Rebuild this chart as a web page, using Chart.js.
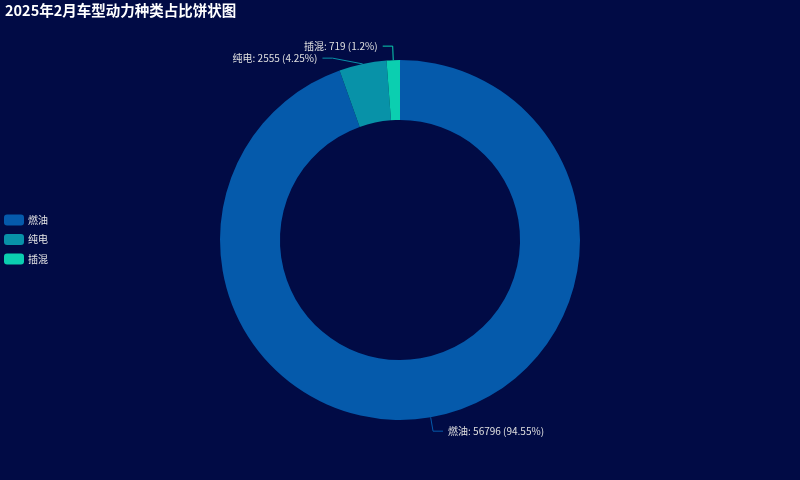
<!DOCTYPE html>
<html>
<head>
<meta charset="utf-8">
<script src="https://cdn.jsdelivr.net/npm/chart.js@4/dist/chart.umd.min.js"></script>
<style>
  html, body { margin: 0; padding: 0; background: #010b45; }
  #wrap { width: 800px; height: 480px; }
</style>
</head>
<body>
<div id="wrap"><canvas id="myChart"></canvas></div>
<script>
// 动力种类 and vehicle counts, Feb 2025
const categories = ['燃油', '纯电', '插混'];
const counts = [56796, 2555, 719];
const colors = ['#055aab', '#0892a8', '#0bcfb0'];

const FONT = '"Noto Sans CJK SC", "Noto Sans", sans-serif';
const total = counts.reduce((a, b) => a + b, 0);

// leader lines + labels, ECharts style
const pieLabels = {
  id: 'pieLabels',
  afterDatasetsDraw(chart) {
    const ctx = chart.ctx;
    const arcs = chart.getDatasetMeta(0).data;
    const len1 = 14, len2 = 10, gap = 12;
    const items = arcs.map((arc, i) => {
      const p = arc.getProps(['x', 'y', 'startAngle', 'endAngle', 'outerRadius'], true);
      const a = (p.startAngle + p.endAngle) / 2;
      const sx = p.x + Math.cos(a) * p.outerRadius;
      const sy = p.y + Math.sin(a) * p.outerRadius;
      return {
        i, cx: p.x, cy: p.y, R: p.outerRadius + len1,
        sx, sy,
        ex: sx + Math.cos(a) * len1,
        ey: sy + Math.sin(a) * len1,
        right: Math.cos(a) >= 0
      };
    });
    // push overlapping labels apart on each side
    [true, false].forEach(side => {
      const list = items.filter(it => it.right === side).sort((a, b) => a.ey - b.ey);
      for (let k = 1; k < list.length; k++) {
        if (list[k].ey - list[k - 1].ey < gap) {
          const it = list[k];
          it.ey = list[k - 1].ey + gap;
          const dy = it.ey - it.cy;
          if (it.R * it.R > dy * dy) {
            const dx = Math.sqrt(it.R * it.R - dy * dy);
            it.ex = it.cx + (side ? dx : -dx);
          }
        }
      }
    });
    ctx.save();
    ctx.font = '10px ' + FONT;
    ctx.textBaseline = 'middle';
    items.forEach(it => {
      const dir = it.right ? 1 : -1;
      const tx = it.ex + dir * len2;
      ctx.strokeStyle = colors[it.i];
      ctx.lineWidth = 1;
      ctx.beginPath();
      ctx.moveTo(it.sx, it.sy);
      ctx.lineTo(it.ex, it.ey);
      ctx.lineTo(tx, it.ey);
      ctx.stroke();
      const pct = parseFloat((counts[it.i] / total * 100).toFixed(2));
      ctx.fillStyle = '#e0e0e0';
      ctx.textAlign = it.right ? 'left' : 'right';
      ctx.fillText(categories[it.i] + ': ' + counts[it.i] + ' (' + pct + '%)', tx + dir * 5, it.ey);
    });
    ctx.restore();
  }
};

// legend on the left, vertically centred on the donut (built-in one eats chart width)
const sideLegend = {
  id: 'sideLegend',
  afterDraw(chart) {
    const ctx = chart.ctx;
    const cy = (chart.chartArea.top + chart.chartArea.bottom) / 2;
    const step = 19.5, bw = 20, bh = 11;
    ctx.save();
    ctx.font = '10px ' + FONT;
    ctx.textBaseline = 'middle';
    ctx.textAlign = 'left';
    chart.data.labels.forEach((lab, i) => {
      const y = cy - 20 + i * step;
      ctx.fillStyle = colors[i];
      ctx.beginPath();
      ctx.roundRect(4, y - bh / 2, bw, bh, 3);
      ctx.fill();
      ctx.fillStyle = '#e6e6e6';
      ctx.fillText(lab, 28, y);
    });
    ctx.restore();
  }
};

Chart.defaults.font.family = FONT;

const ctx = document.getElementById('myChart');
new Chart(ctx, {
  type: 'doughnut',
  data: {
    labels: categories,
    datasets: [{
      data: counts,
      backgroundColor: colors,
      borderWidth: 0
    }]
  },
  options: {
    responsive: true,
    maintainAspectRatio: false,
    animation: false,
    events: [],
    cutout: '66.7%',
    layout: { padding: { left: 5, right: 5, top: 0, bottom: 60 } },
    plugins: {
      title: {
        display: true,
        text: '2025年2月车型动力种类占比饼状图',
        align: 'start',
        color: '#ffffff',
        font: { size: 14.5, weight: 'bold' },
        padding: { top: 2, bottom: 40.6 }
      },
      legend: { display: false },
      tooltip: { enabled: false }
    }
  },
  plugins: [pieLabels, sideLegend]
});
</script>
</body>
</html>
